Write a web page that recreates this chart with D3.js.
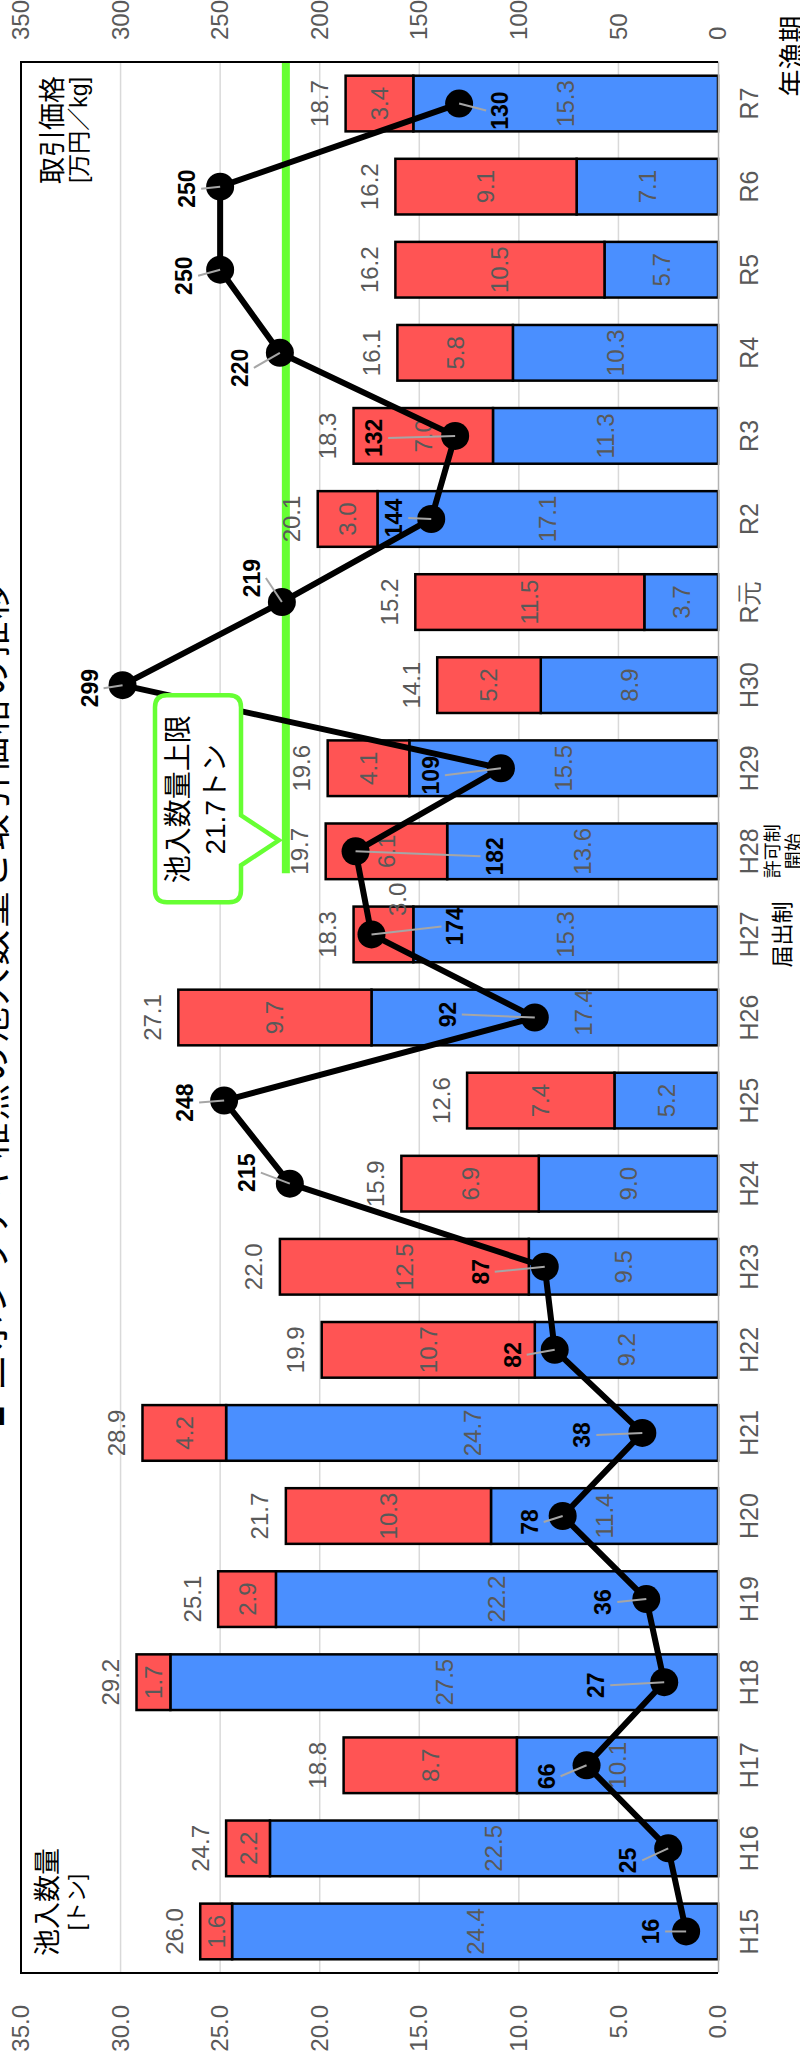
<!DOCTYPE html>
<html lang="ja">
<head>
<meta charset="UTF-8">
<title>ニホンウナギ稚魚の池入数量と取引価格の推移</title>
<script src="https://cdn.jsdelivr.net/npm/d3@7/dist/d3.min.js"></script>
<style>
    body { margin: 0; background: #fff; }
    svg { display: block; font-family: "Liberation Sans", Arial, "Noto Sans CJK JP", sans-serif; }
</style>
</head>
<body>
<script>

    // DATA
    const periods = ["H15","H16","H17","H18","H19","H20","H21","H22","H23","H24","H25","H26",
                     "H27","H28","H29","H30","R元","R2","R3","R4","R5","R6","R7"]
    const domesticCatch = [24.4,22.5,10.1,27.5,22.2,11.4,24.7,9.2,9.5,9.0,5.2,17.4,
                           15.3,13.6,15.5,8.9,3.7,17.1,11.3,10.3,5.7,7.1,15.3]
    const imports = [1.6,2.2,8.7,1.7,2.9,10.3,4.2,10.7,12.5,6.9,7.4,9.7,
                     3.0,6.1,4.1,5.2,11.5,3.0,7.0,5.8,10.5,9.1,3.4]
    const totals = [26.0,24.7,18.8,29.2,25.1,21.7,28.9,19.9,22.0,15.9,12.6,27.1,
                    18.3,19.7,19.6,14.1,15.2,20.1,18.3,16.1,16.2,16.2,18.7]
    const prices = [16,25,66,27,36,78,38,82,87,215,248,92,
                    174,182,109,299,219,144,132,220,250,250,130]
    const leftTicks = [0,5,10,15,20,25,30,35]
    const rightTicks = [0,50,100,150,200,250,300,350]
    const quotaLimit = 21.7

    // LAYOUT: price label placement [along, across] relative to its marker
    const priceLabelShift = [[0,-35],[-12,-40],[-11,-40],[-3,-68],[-3,-43],[-6,-33],[-2,-60],[-5,-42],
                             [-5,-64],[11,-43],[-2,-39],[3,-87],[8,84],[-5,139],[-7,-70],[-3,-33],
                             [24,-30],[1,-37],[-2,-81],[-15,-40],[-6,-36],[-2,-33],[-7,41]]

    // chart is drawn landscape (2067 x 800) then turned a quarter left
    const W = 2067
    const svg = d3.select("body").append("svg").attr("width", 800).attr("height", W)
    const g = svg.append("g").attr("transform", `translate(0,${W}) rotate(-90)`)

    const pLeft = 94, pRight = 2005, pTop = 21, pBottom = 718
    const grey = "#595959"

    // SCALES
    const x = d3.scaleBand().domain(periods).range([pLeft, pRight]).paddingInner(0.33).paddingOuter(0.165)
    const yL = d3.scaleLinear().domain([0, 35]).range([pBottom, pTop])
    const yR = d3.scaleLinear().domain([0, 350]).range([pBottom, pTop])
    const bw = x.bandwidth()

    // GRIDLINES
    g.append("g").selectAll("line")
        .data(leftTicks.filter(t => t > 0 && t < 35))
        .join("line")
        .attr("x1", pLeft).attr("x2", pRight)
        .attr("y1", d => yL(d)).attr("y2", d => yL(d))
        .attr("stroke", "#d9d9d9").attr("stroke-width", 1.5)

    // STACKED BARS
    const rows = periods.map((p, i) => ({period: p, domestic: domesticCatch[i], imports: imports[i]}))
    const stack = d3.stack().keys(["domestic", "imports"])(rows)
    const colors = {domestic: "#4a8fff", imports: "#ff5454"}

    stack.forEach(layer => {
        g.append("g").selectAll("rect")
            .data(layer)
            .join("rect")
            .attr("x", d => x(d.data.period))
            .attr("y", d => yL(d[1]))
            .attr("width", bw)
            .attr("height", d => yL(d[0]) - yL(d[1]))
            .attr("fill", colors[layer.key])
            .attr("stroke", "#000").attr("stroke-width", 2.5)
    })

    // QUOTA LINE
    const qy = yL(quotaLimit)
    g.append("line")
        .attr("x1", x("H28") + 6).attr("x2", pRight)
        .attr("y1", qy).attr("y2", qy)
        .attr("stroke", "#66ff33").attr("stroke-width", 8)

    // bar value labels (two were shifted by hand in the original)
    const nudge = {"domestic:H26": [5, 39], "imports:H27": [35, 14]}
    const nd = (k, p) => nudge[k + ":" + p] || [0, 0]
    stack.forEach(layer => {
        g.append("g").selectAll("text")
            .data(layer)
            .join("text")
            .attr("x", d => x(d.data.period) + bw / 2 + nd(layer.key, d.data.period)[0])
            .attr("y", d => (yL(d[0]) + yL(d[1])) / 2 + nd(layer.key, d.data.period)[1])
            .attr("text-anchor", "middle").attr("dominant-baseline", "central")
            .style("font-size", "24px").attr("fill", grey)
            .text(d => d3.format(".1f")(d.data[layer.key]))
    })

    // totals
    g.append("g").selectAll("text")
        .data(totals)
        .join("text")
        .attr("x", (d, i) => x(periods[i]) + bw / 2)
        .attr("y", d => yL(d) - 26)
        .attr("text-anchor", "middle").attr("dominant-baseline", "central")
        .style("font-size", "24px").attr("fill", grey)
        .text(d => d3.format(".1f")(d))

    // AXES
    const xAxis = g.append("g").attr("transform", `translate(0,${pBottom})`)
        .call(d3.axisBottom(x).tickSize(0).tickPadding(22))
    xAxis.select(".domain").attr("stroke", "#b3b3b3").attr("stroke-width", 1.5)
    xAxis.selectAll("text").style("font-size", "25px").attr("fill", grey)

    const lAxis = g.append("g").attr("transform", `translate(${pLeft},0)`)
        .call(d3.axisLeft(yL).tickValues(leftTicks).tickFormat(d3.format(".1f")).tickSize(0).tickPadding(32))
    lAxis.select(".domain").remove()
    lAxis.selectAll("text").style("font-size", "24px").attr("fill", grey)

    const rAxis = g.append("g").attr("transform", `translate(${pRight},0)`)
        .call(d3.axisRight(yR).tickValues(rightTicks).tickSize(0).tickPadding(22))
    rAxis.select(".domain").remove()
    rAxis.selectAll("text").style("font-size", "24px").attr("fill", grey)

    // plot frame
    g.append("path")
        .attr("d", `M${pLeft},${pBottom}V${pTop}H${pRight}V${pBottom}`)
        .attr("fill", "none").attr("stroke", "#000").attr("stroke-width", 2)

    // PRICE LINE
    const px = (d, i) => x(periods[i]) + bw / 2
    const line = d3.line().x(px).y(d => yR(d))
    g.append("path")
        .datum(prices)
        .attr("d", line)
        .attr("fill", "none").attr("stroke", "#000").attr("stroke-width", 6).attr("stroke-linejoin", "round")

    g.append("g").selectAll("circle")
        .data(prices)
        .join("circle")
        .attr("cx", px).attr("cy", d => yR(d)).attr("r", 14)
        .attr("fill", "#000")

    // leader lines
    g.append("g").selectAll("line")
        .data(prices)
        .join("line")
        .attr("x1", px).attr("y1", d => yR(d))
        .attr("x2", (d, i) => px(d, i) + priceLabelShift[i][0])
        .attr("y2", (d, i) => yR(d) + priceLabelShift[i][1] - Math.sign(priceLabelShift[i][1]) * 14)
        .attr("stroke", "#a6a6a6").attr("stroke-width", 2)

    g.append("g").selectAll("text")
        .data(prices)
        .join("text")
        .attr("x", (d, i) => px(d, i) + priceLabelShift[i][0])
        .attr("y", (d, i) => yR(d) + priceLabelShift[i][1])
        .attr("text-anchor", "middle").attr("dominant-baseline", "central")
        .style("font-size", "23px").style("font-weight", "bold").attr("fill", "#000")
        .text(d => d)

    // CALLOUT (sits over the price line)
    const cx = x("H28") + bw / 2 + 52
    const L = cx - 103, R = cx + 104, T = 155, B = 241, r = 12
    const tip = cx - 41
    g.append("path")
        .attr("d", `M${L + r},${T}H${R - r}Q${R},${T} ${R},${T + r}V${B - r}Q${R},${B} ${R - r},${B}` +
                   `H${tip + 25}L${tip},${qy - 7}L${tip - 25},${B}` +
                   `H${L + r}Q${L},${B} ${L},${B - r}V${T + r}Q${L},${T} ${L + r},${T}Z`)
        .attr("fill", "#fff").attr("stroke", "#66ff33").attr("stroke-width", 4.5)
    g.append("text").attr("x", cx).attr("y", 188).attr("text-anchor", "middle")
        .style("font-size", "28px").text("池入数量上限")
    g.append("text").attr("x", cx).attr("y", 225).attr("text-anchor", "middle")
        .style("font-size", "28px").text(`${quotaLimit}トン`)

    // TEXTS
    g.append("text").attr("x", 640).attr("y", 6)
        .attr("textLength", 844).attr("lengthAdjust", "spacing")
        .style("font-size", "36px").text("■ ニホンウナギ稚魚の池入数量と取引価格の推移")

    g.append("text").attr("x", 165).attr("y", 57).attr("text-anchor", "middle")
        .style("font-size", "27px").text("池入数量")
    g.append("text").attr("x", 165).attr("y", 84).attr("text-anchor", "middle")
        .style("font-size", "22px").text("[トン]")

    g.append("text").attr("x", 1937).attr("y", 62).attr("text-anchor", "middle")
        .style("font-size", "27px").text("取引価格")
    g.append("text").attr("x", 1937).attr("y", 87).attr("text-anchor", "middle")
        .style("font-size", "23px").text("[万円／kg]")

    g.append("text").attr("x", 2011).attr("y", 802).attr("text-anchor", "middle")
        .style("font-size", "27px").text("年漁期")

    const sub = [["H27", "届出制", 790, 22], ["H28", "許可制", 779, 18], ["H28", "開始", 800, 18]]
    sub.forEach(s => {
        g.append("text").attr("x", x(s[0]) + bw / 2).attr("y", s[2]).attr("text-anchor", "middle")
            .style("font-size", s[3] + "px").text(s[1])
    })

</script>
</body>
</html>
